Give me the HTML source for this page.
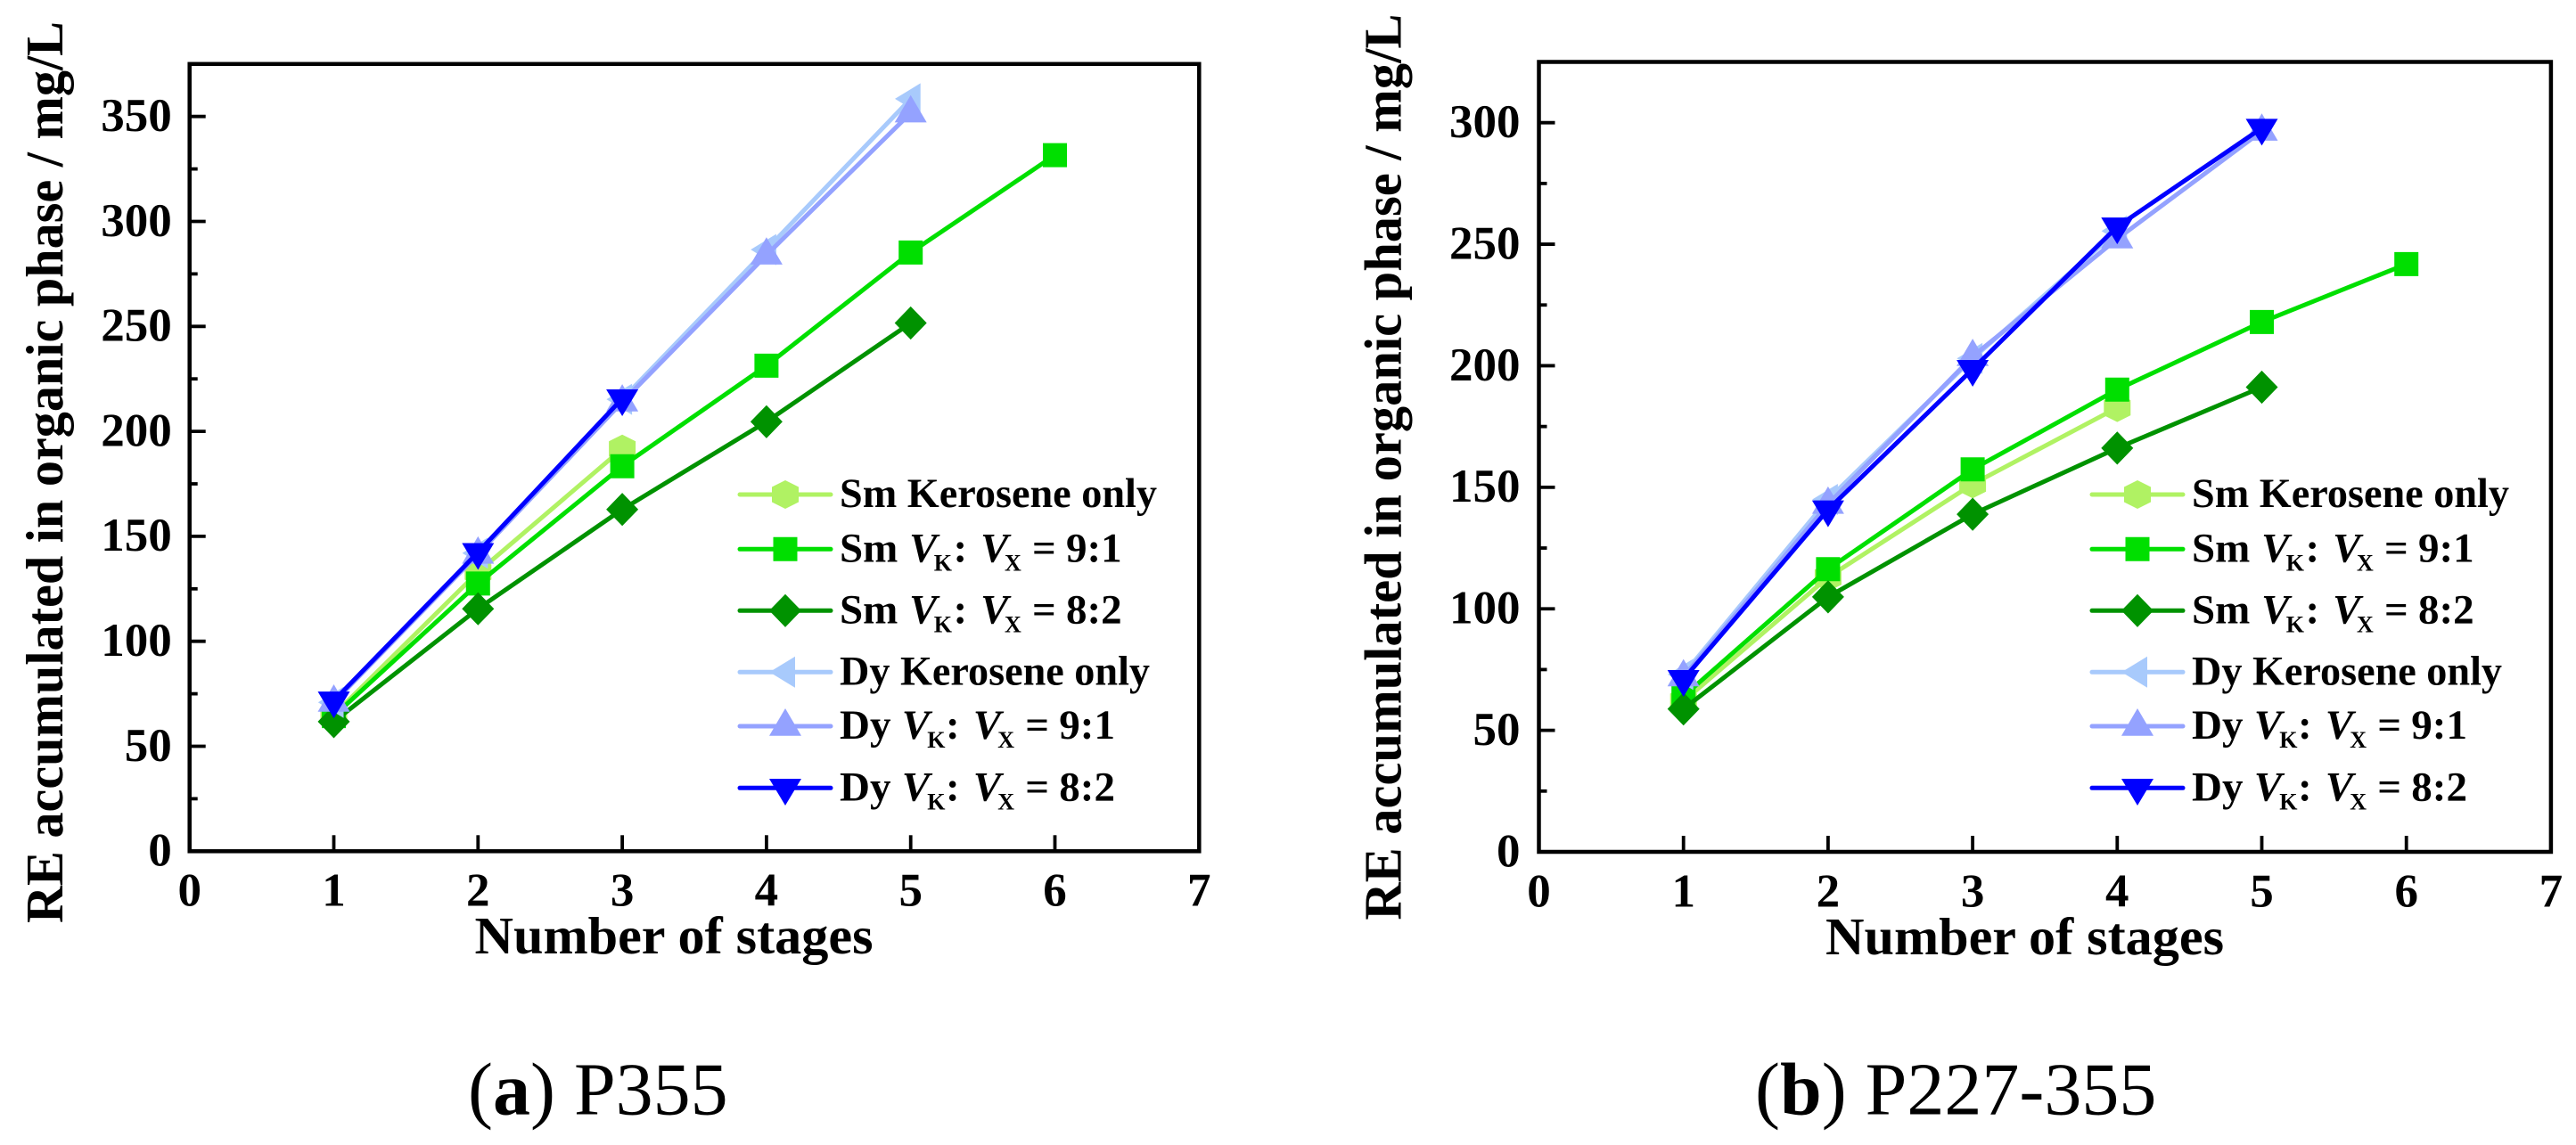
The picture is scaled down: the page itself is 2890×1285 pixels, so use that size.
<!DOCTYPE html>
<html lang="en">
<head>
<meta charset="utf-8">
<title>RE accumulated in organic phase</title>
<style>
  html, body { margin: 0; padding: 0; background: #fff; }
  #figure { display: block; width: 2890px; height: 1285px; }
  text { font-family: "Liberation Serif", "Times New Roman", serif; fill: #000; }
  .bold { font-weight: 700; }
</style>
</head>
<body>
<svg id="figure" xmlns="http://www.w3.org/2000/svg" width="2890" height="1285" viewBox="0 0 2890 1285">
  <rect x="0" y="0" width="2890" height="1285" fill="#fff"></rect>
  <text x="525" y="1250.7" font-size="84">(<tspan font-weight="700">a</tspan>) P355</text>
  <text x="1969" y="1250.7" font-size="84">(<tspan font-weight="700">b</tspan>) P227-355</text>
</svg>
<script>
// ---- shared categories and tick labels ----
const stages = [1, 2, 3, 4, 5, 6];
const xTickLabels = [0, 1, 2, 3, 4, 5, 6, 7];
const xMajorTicks = [1, 2, 3, 4, 5, 6];
const seriesKeys = ['sm-kerosene', 'sm-9-1', 'sm-8-2', 'dy-kerosene', 'dy-9-1', 'dy-8-2'];

// ---- panel (a) P355 values ----
const aSmKerosene = [65, 133, 191.7];
const aSm91 = [64.4, 127.5, 183.4, 231.3, 285.2, 331.6];
const aSm82 = [61.7, 115.5, 162.8, 204.6, 251.6];
const aDyKerosene = [70.9, 142, 215.3, 286.6, 358.4];
const aDy91 = [71, 141.5, 214, 284, 351.7];
const aDy82 = [71.7, 142.4, 215.6];
const aYTickLabels = [0, 50, 100, 150, 200, 250, 300, 350];
const aYMinorTicks = [25, 75, 125, 175, 225, 275, 325, 375];

// ---- panel (b) P227-355 values ----
const bSmKerosene = [62, 113, 151.3, 182.7];
const bSm91 = [64, 116.3, 157.4, 190.2, 218, 241.8];
const bSm82 = [58.8, 104.9, 138.9, 166.1, 191.2];
const bDyKerosene = [73, 145, 203, 255.4];
const bDy91 = [72, 143, 203.8, 252.2, 296.5];
const bDy82 = [71, 140.8, 198.6, 257.2, 297.8];
const bYTickLabels = [0, 50, 100, 150, 200, 250, 300];
const bYMinorTicks = [25, 75, 125, 175, 225, 275, 325];

const svgNS = 'http://www.w3.org/2000/svg';
const figure = document.getElementById('figure');

function make(tag, attrs, parent) {
  const el = document.createElementNS(svgNS, tag);
  for (const k in attrs) el.setAttribute(k, attrs[k]);
  parent.appendChild(el);
  return el;
}

const seriesStyle = {
  'sm-kerosene': { color: '#B0F263', shape: 'hexagon' },
  'sm-9-1': { color: '#00DF00', shape: 'square' },
  'sm-8-2': { color: '#009200', shape: 'diamond' },
  'dy-kerosene': { color: '#A8CAFC', shape: 'left' },
  'dy-9-1': { color: '#94A2FF', shape: 'up' },
  'dy-8-2': { color: '#0000FF', shape: 'down' }
};

const shapes = {
  hexagon: [[0, -16], [15, -8.5], [15, 8.5], [0, 16], [-15, 8.5], [-15, -8.5]],
  square: [[-13.5, -13.5], [13.5, -13.5], [13.5, 13.5], [-13.5, 13.5]],
  diamond: [[0, -18.6], [18, 0], [0, 18.6], [-18, 0]],
  left: [[-17.7, 0], [11, -17.5], [11, 17.5]],
  up: [[0, -20], [18, 10.7], [-18, 10.7]],
  down: [[-18, -10.3], [18, -10.3], [0, 19.7]]
};

function drawMarker(shape, cx, cy, color, parent) {
  const pts = shapes[shape].map(function (p) { return (cx + p[0]).toFixed(1) + ',' + (cy + p[1]).toFixed(1); }).join(' ');
  return make('polygon', { points: pts, fill: color }, parent);
}

function drawPanel(cfg) {
  const xScale = function (v) { return cfg.x0 + v * cfg.xUnit; };
  const yScale = function (v) { return cfg.y0 - v * cfg.yUnit; };
  const g = make('g', {}, figure);
  
  

  // series first; axes drawn afterwards
  seriesKeys.forEach(function (key, i) {
    const vals = cfg.series[i];
    const st = seriesStyle[key];
    const sg = make('g', {}, g);
    
    
    const pts = vals.map(function (v, j) { return xScale(stages[j]).toFixed(1) + ',' + yScale(v).toFixed(1); }).join(' ');
    const line = make('polyline', { points: pts, fill: 'none', stroke: st.color, 'stroke-width': 5, 'stroke-linejoin': 'round' }, sg);
    
    
    vals.forEach(function (v, j) {
      const m = drawMarker(st.shape, xScale(stages[j]), yScale(v), st.color, sg);
      
      
    });
  });

  // axis frame
  const frame = make('rect', {
    x: xScale(0), y: yScale(cfg.yMax),
    width: xScale(7) - xScale(0), height: yScale(0) - yScale(cfg.yMax),
    fill: 'none', stroke: '#000', 'stroke-width': 4.5
  }, g);
  
  

  // x ticks
  xMajorTicks.forEach(function (v) {
    const t = make('line', { x1: xScale(v), x2: xScale(v), y1: yScale(0), y2: yScale(0) - 18, stroke: '#000', 'stroke-width': 3.8 }, g);
    
    
  });
  xTickLabels.forEach(function (v) {
    const t = make('text', { x: xScale(v), y: cfg.xLabelY, 'font-size': 53, 'font-weight': 700, 'text-anchor': 'middle' }, g);
    t.textContent = v;
    
    
  });

  // y ticks
  cfg.yLabels.forEach(function (v) {
    if (v > 0) {
      const t = make('line', { x1: xScale(0), x2: xScale(0) + 18, y1: yScale(v), y2: yScale(v), stroke: '#000', 'stroke-width': 3.8 }, g);
      
      
    }
    const l = make('text', { x: xScale(0) - cfg.yLabelGap, y: yScale(v) + 16.3, 'font-size': 53, 'font-weight': 700, 'text-anchor': 'end' }, g);
    l.textContent = v;
    
    
  });
  cfg.yMinor.forEach(function (v) {
    const t = make('line', { x1: xScale(0), x2: xScale(0) + 9, y1: yScale(v), y2: yScale(v), stroke: '#000', 'stroke-width': 3.8 }, g);
    
    
  });

  // axis titles
  const xt = make('text', { x: cfg.xTitleX, y: cfg.xTitleY, 'font-size': 59, 'font-weight': 700, textLength: 447, lengthAdjust: 'spacingAndGlyphs' }, g);
  xt.textContent = 'Number of stages';
  
  

  const yt = make('text', {
    x: 0, y: 0, 'font-size': 59, 'font-weight': 700,
    transform: 'translate(' + cfg.yTitleX + ',' + cfg.yTitleY + ') rotate(-90)',
    textLength: cfg.yTitleLen, lengthAdjust: 'spacingAndGlyphs'
  }, g);
  yt.textContent = 'RE accumulated in organic phase / mg/L';
  
  

  drawLegend(g, cfg.legendX);
}

function addSpan(textEl, str, x, y, size, italic) {
  const s = make('tspan', { x: x, y: y, 'font-size': size }, textEl);
  if (italic) s.setAttribute('font-style', 'italic');
  s.textContent = str;
  return s;
}

function drawLegend(parent, lx) {
  const rowY = [555, 616.3, 685.3, 754.3, 815, 884.3];
  const legend = make('g', {}, parent);
  
  
  const tx = lx + 112;
  seriesKeys.forEach(function (key, i) {
    const st = seriesStyle[key];
    const y = rowY[i];
    const entry = make('g', {}, legend);
    
    
    const ln = make('line', { x1: lx, x2: lx + 102, y1: y, y2: y, stroke: st.color, 'stroke-width': 5, 'stroke-linecap': 'round' }, entry);
    
    
    const mk = drawMarker(st.shape, lx + 51, y, st.color, entry);
    
    
    const base = y + 14;
    const isSm = i < 3;
    const t = make('text', { 'font-weight': 700 }, entry);
    
    
    if (i === 0 || i === 3) {
      t.setAttribute('x', tx);
      t.setAttribute('y', base);
      t.setAttribute('font-size', 47);
      t.setAttribute('textLength', isSm ? 356 : 348);
      t.setAttribute('lengthAdjust', 'spacingAndGlyphs');
      t.textContent = (isSm ? 'Sm' : 'Dy') + ' Kerosene only';
    } else {
      const o = isSm ? [0, 78, 105.7, 127.5, 158, 185, 216, 254] : [0, 69.7, 98.3, 119, 149.7, 177.3, 208.3, 246.3];
      addSpan(t, isSm ? 'Sm' : 'Dy', tx + o[0], base, 47, false);
      addSpan(t, 'V', tx + o[1], base, 47, true);
      addSpan(t, 'K', tx + o[2], base + 10, 26, false);
      addSpan(t, ':', tx + o[3], base, 47, false);
      addSpan(t, 'V', tx + o[4], base, 47, true);
      addSpan(t, 'X', tx + o[5], base + 10, 26, false);
      addSpan(t, '=', tx + o[6], base, 47, false);
      addSpan(t, (i === 1 || i === 4) ? '9:1' : '8:2', tx + o[7], base, 47, false);
    }
  });
}

drawPanel({
  id: 'a', x0: 212.7, xUnit: 161.8, y0: 955.3, yUnit: 2.356, yMax: 375,
  series: [aSmKerosene, aSm91, aSm82, aDyKerosene, aDy91, aDy82],
  yLabels: aYTickLabels, yMinor: aYMinorTicks, yLabelGap: 20,
  xLabelY: 1016.7, xTitleX: 532.5, xTitleY: 1070,
  yTitleX: 70, yTitleY: 1036, yTitleLen: 1012, legendX: 830
});

drawPanel({
  id: 'b', x0: 1726.5, xUnit: 162.2, y0: 956, yUnit: 2.7277, yMax: 325,
  series: [bSmKerosene, bSm91, bSm82, bDyKerosene, bDy91, bDy82],
  yLabels: bYTickLabels, yMinor: bYMinorTicks, yLabelGap: 21,
  xLabelY: 1017.7, xTitleX: 2048, xTitleY: 1071,
  yTitleX: 1571.7, yTitleY: 1032.6, yTitleLen: 1017, legendX: 2347
});
</script>
</body>
</html>
